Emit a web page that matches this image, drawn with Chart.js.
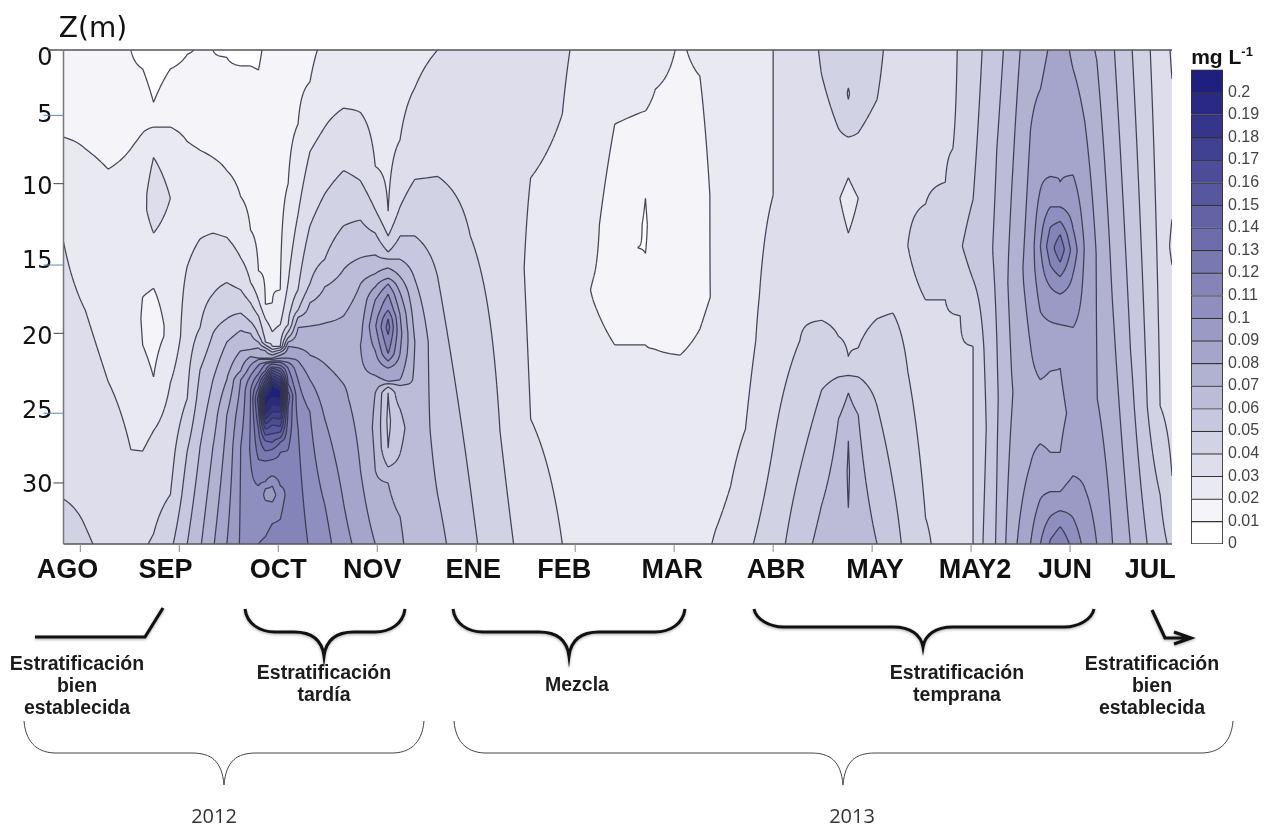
<!DOCTYPE html>
<html>
<head>
<meta charset="utf-8">
<title>Contornos Z(m)</title>
<script src="https://cdn.jsdelivr.net/npm/chart.js@4"></script>
<style>
  html, body { margin: 0; padding: 0; background: #fff; }
  #page { position: relative; width: 1270px; height: 827px; overflow: hidden; }
  canvas { position: absolute; }
  .note { position: absolute; transform: translate(-50%, -50%); white-space: nowrap; color: #1c1c1c; }
  .phase { font: bold 19.5px "Liberation Sans", Arial, sans-serif; }
  .year { font: 20px "Open Sans", sans-serif; color: #333; }
  .axisname { font: 28px "DejaVu Sans", sans-serif; color: #111; }
  .unit { font: bold 21px "Liberation Sans", Arial, sans-serif; color: #111; }
  .unit sup { font-size: 13px; line-height: 0; }
</style>
</head>
<body>
<div id="page">
  <canvas id="contourChart" width="1270" height="827" style="left:0;top:0"></canvas>
  <canvas id="scaleChart" width="85" height="510" style="left:1185px;top:55px"></canvas>
</div>
<script>
// Axis labels
const monthLabels = ["AGO", "SEP", "OCT", "NOV", "ENE", "FEB", "MAR", "ABR", "MAY", "MAY2", "JUN", "JUL"];
const monthLabelAt = [-0.13, 0.86, 2, 2.95, 3.97, 4.89, 5.98, 7.03, 8.03, 9.04, 9.95, 10.81];
const monthTicks = [0, 1, 2, 3, 4, 5, 6, 7, 8, 9, 10];
const depthLabels = ["0", "5", "10", "15", "20", "25", "30"];
const depthLabelAt = [0.58, 4.5, 9.5, 14.6, 19.8, 24.9, 30];
const depthTicks = [0, 4.5, 9.2, 14.8, 19.5, 25, 29.8];
const scaleLabels = ["0", "0.01", "0.02", "0.03", "0.04", "0.05", "0.06", "0.07", "0.08", "0.09", "0.1",
  "0.11", "0.12", "0.13", "0.14", "0.15", "0.16", "0.17", "0.18", "0.19", "0.2"];

// Position of each profile along the time axis (0 = AGO, 1 = SEP ...)
const profileX = [-0.17, 0.05, 0.28, 0.51, 0.63, 0.74, 0.91, 1.08, 1.21, 1.34, 1.48, 1.62, 1.72, 1.8, 1.87, 1.94,
  2.02, 2.1, 2.2, 2.32, 2.47, 2.66, 2.83, 2.98, 3.11, 3.23, 3.38, 3.61, 3.94, 4.24, 4.55, 4.87, 5.18, 5.4, 5.63,
  5.71, 5.81, 6.06, 6.26, 6.42, 6.72, 7, 7.27, 7.49, 7.66, 7.76, 7.86, 8.05, 8.21, 8.36, 8.54, 8.74, 8.89, 9.02,
  9.13, 9.26, 9.41, 9.6, 9.7, 9.8, 9.9, 10.03, 10.15, 10.27, 10.43, 10.61, 10.78, 10.91, 11.03];

// Depth profiles as depth, value, depth, value ... (value in hundredths of mg/L)
const profiles = [
  [0,1.5, 6,2, 13.2,3, 30.9,4, 34,4.4],
  [0,1.5, 6.8,2, 17.9,3, 32.8,4, 34,4.1],
  [0,1.4, 8.2,2, 22.8,3, 34,3.8],
  [0,1, 6.8,2, 27.5,3, 34,3.3],
  [0,0.5, 1.3,1, 5.7,2, 11,2.8, 17,2, 18.5,1.9, 20.3,2, 27.6,3, 34,3.9],
  [0,0.3, 3.6,1, 5.3,2, 7.4,3, 9.9,3.6, 12.6,3, 15,2.5, 16.4,2, 19,1.6, 22.5,2, 26.2,3, 33.3,4, 34,4.1],
  [0,0.6, 1.3,1, 5.3,2, 7,2.5, 10.2,3, 14,2.5, 19.7,2.2, 22.9,3, 30.6,4, 34,4.8],
  [0,0.8, 0.3,1, 6.3,2, 14.9,3, 24,4, 27.6,5, 34,6],
  [0,1.2, 6.9,2, 13,3, 19.1,4, 22,5, 27.3,6, 34,6.9],
  [0,1, 7.4,2, 12.6,3, 16.8,4, 19.5,5, 22.7,6, 27.3,7, 34,7.9],
  [0,0.6, 0.5,1, 8.3,2, 12.9,3, 16,4, 18.5,5, 20.1,6, 22.7,7, 25.1,8, 34,9],
  [0,0.5, 1.1,1, 10.1,2, 14.3,3, 16.5,4, 18.1,5, 19.3,6, 20.7,7, 22.1,8, 22.7,9, 27.3,10, 34,10.1],
  [0,0.5, 1.1,1, 12.4,2, 16,3, 17.4,4, 18.7,5, 19.5,6, 20.6,7, 21.1,8, 21.7,9, 22.4,10, 23.4,11, 27.5,11.1, 29,10.9, 34,10.4],
  [0,0.9, 15.2,2, 17.2,3, 18.3,4, 19.6,5, 20.1,6, 20.5,7, 21.2,8, 21.3,9, 21.7,10, 22.3,11, 23,12.5, 24,14.5, 26.1,13, 28.2,12, 30,11, 32,10.4, 34,11],
  [0,1.1, 17.5,2, 18.5,3, 20.1,4, 20.3,5, 20.5,6, 20.7,7, 21.2,8, 21.3,9, 21.5,10, 21.6,11, 22.1,12, 22.3,13, 22.5,14, 22.7,15, 23,16, 23.4,18, 23.8,20, 24,20.5, 24.7,20, 25.4,18, 26.1,16, 26.9,14, 27.6,13, 28.3,12, 29.7,11, 30.2,10, 30.6,9.7, 31,10, 33.5,11, 34,11.2],
  [0,1.3, 17.4,2, 19.4,3, 20.4,4, 20.6,5, 20.8,6, 21,7, 21.2,8, 21.3,9, 21.4,10, 21.5,11, 21.6,12, 21.8,13, 21.9,14, 22.05,15, 22.2,16, 22.4,17, 22.6,18, 22.8,19, 23,20, 23.6,21, 23.9,20, 24.4,19, 24.9,18, 25.3,17, 25.8,16, 26.4,15, 27,14, 27.5,13, 28.2,12, 29.3,11, 30,10, 30.6,9.6, 31.1,10, 32.6,11, 34,11.6],
  [0,1.4, 16.5,2, 18.9,3, 20.4,4, 20.5,5, 20.65,6, 20.8,7, 21,8, 21.2,9, 21.4,10, 21.5,11, 21.7,12, 21.9,13, 22.1,14, 22.3,15, 22.5,16, 22.7,17, 22.9,18, 23.2,19, 23.4,20, 23.8,20.5, 24,20, 24.5,19, 24.9,18, 25.4,17, 25.9,16, 26.3,15, 26.7,14, 27,13, 27.7,12, 30,11, 30.6,10.5, 32.3,11, 34,11.8],
  [0,1.5, 9.2,2, 16,3, 18.9,4, 19.4,5, 19.8,6, 20.1,7, 20.4,8, 21.2,9, 21.5,10, 21.9,11, 23,12, 23.8,13.5, 24.5,13, 27.5,12, 30,11.2, 34,12],
  [0,1.7, 5.1,2, 11.3,3, 16.5,4, 17.9,5, 18.4,6, 19.1,7, 20.5,8, 21.4,9, 22.7,10, 26,11, 34,11.5],
  [0,1.8, 2.2,2, 7,3, 12.1,4, 16.1,5, 17.4,6, 19,7, 21,8, 22.7,9, 24.9,10, 34,10.9],
  [0,2.2, 5.3,3, 9.9,4, 14.4,5, 16.3,6, 18.8,7, 21.6,8, 25.4,9, 31.3,10, 34,10.4],
  [0,2.6, 4,3, 8.3,4, 12.1,5, 15.1,6, 18.3,7, 23,8, 31.2,9, 34,9.3],
  [0,2.6, 4.3,3, 9,4, 11.7,5, 14.3,6, 16.1,7, 20.3,8, 24,7.7, 28.9,8, 34,8.7],
  [0,2.4, 8,3, 11,4, 12.6,5, 14.1,6, 15.4,7, 16.3,8, 17.2,9, 19,9.9, 20.7,9, 22.4,8, 23.6,7, 26,6.8, 28.9,7, 34,8],
  [0,2.3, 11.1,3, 12.8,4, 13.9,5, 14.4,6, 15,7, 15.7,8, 16.1,9, 16.8,10, 17.9,11, 18.5,12, 19.1,12.4, 19.6,12, 20.9,11, 21.4,10, 21.9,9, 22.8,8, 22.95,7, 23.2,6, 23.6,5, 25.5,4.8, 27.4,5, 28.7,6, 29.8,7, 34,7.5],
  [0,2.5, 6.2,3, 10.8,4, 12.8,5, 14.4,6, 15.6,7, 16.7,8, 18.2,9, 19.5,9.3, 20.9,9, 22.7,8, 23.1,7, 24,6.5, 24.7,6, 26,5.7, 27.8,6, 29.5,6.5, 32.1,7, 34,7.1],
  [0,2.8, 2.6,3, 8.9,4, 12.8,5, 15.8,6, 20.1,7, 26,6.6, 34,6.7],
  [0,3, 8.7,4, 15.6,5, 30.6,6, 34,6.3],
  [0,3.3, 12.8,4, 30.1,5, 34,5.2],
  [0,3.4, 26.2,4, 34,4.4],
  [0,3.5, 8.8,3, 15,2.8, 25.4,3, 34,3.5],
  [0,3.1, 4.4,3, 18,2.5, 34,3],
  [0,2.7, 15.8,2, 16.5,1.95, 17.2,2, 34,2.6],
  [0,2.6, 5.1,2, 12,1.6, 20.3,2, 34,2.5],
  [0,2.5, 4.4,2, 9,1.4, 13.6,1, 20.3,2, 34,2.5],
  [0,2.4, 4.2,2, 10.2,1, 12,0.9, 14,1, 20.3,2, 34,2.4],
  [0,2.4, 2.7,2, 14,1.3, 20.6,2, 34,2.4],
  [0,1.9, 12,1.4, 21,2, 34,2.5],
  [0,2.2, 1.8,2, 10,1.6, 19.2,2, 34,2.7],
  [0,2.5, 17,2.05, 30,2.6, 33,3, 34,3.1],
  [0,2.7, 20,2.7, 26.1,3, 34,3.8],
  [0,3, 10,3, 17,3.3, 27.3,4, 34,4.5],
  [0,3.4, 20,4, 28.9,5, 34,5.6],
  [0,4.1, 1.7,4, 10,3.4, 18.6,4, 23.4,5, 31.3,6, 34,6.3],
  [0,4.5, 5.4,4, 10.2,3.05, 19.7,4, 22.5,5, 25.4,6, 34,6.7],
  [0,4.7, 2.6,5, 3,5.1, 3.4,5, 6,4, 8.8,3, 10.2,2.7, 12.6,3, 21.1,4, 22.4,5, 23.6,6, 26.9,7, 29,7.1, 31.5,7, 34,6.9],
  [0,4.6, 5.7,4, 10.2,3, 20.5,4, 22.5,5, 25.1,6, 34,6.6],
  [0,4.2, 3.4,4, 10,3.4, 18.5,4, 24.5,5, 34,6],
  [0,3.7, 10,3.5, 18.1,4, 29.8,5, 34,5.4],
  [0,3.7, 13.5,4, 17,3.8, 22.1,4, 34,4.7],
  [0,3.6, 10.6,4, 14,4.3, 17.2,4, 22,3.6, 32.2,4, 34,4.2],
  [0,3.8, 9.1,4, 13,4.5, 17.2,4, 34,3.5],
  [0,4.05, 6.8,4.05, 13.5,4.9, 18.3,4, 34,3.7],
  [0,4.5, 10.3,5, 13.5,5.5, 15.8,5, 20.4,4, 34,4],
  [0,5.1, 13.5,5.6, 20.6,5, 26,4.8, 31.6,5, 34,5.1],
  [0,5.6, 6.8,6, 14,6.2, 19.9,6, 24,5.9, 29.5,6, 34,6.1],
  [0,6.5, 9.6,7, 16,7.3, 22.3,7, 23.5,6.95, 25,7, 34,7.6],
  [0,7.6, 5.5,8, 15,8.5, 20.3,8, 25,7.6, 28.5,8, 34,9],
  [0,7.7, 2.7,8, 9.6,9, 13.5,10, 18,9, 22.7,8, 25,7.7, 27.1,8, 30.9,9, 34,10],
  [0,8.1, 8.7,9, 10.8,10, 12.2,11, 13.5,11.6, 14.8,11, 16.3,10, 18.7,9, 22.1,8, 25,7.5, 27.7,8, 30.4,9, 32.1,10, 33.7,11, 34,11.1],
  [0,8.5, 9.1,9, 10.8,10, 11.8,11, 12.7,12, 13.7,12.7, 14.6,12, 15.6,11, 16.8,10, 18.9,9, 21.9,8, 25,7.7, 27.7,8, 30.4,9, 31.7,10, 32.8,11, 34,11.8],
  [0,7.8, 1.3,8, 8.6,9, 12.3,10, 13.8,10.6, 15.4,10, 19.1,9, 25,8.3, 29.3,9, 32.2,10, 34,10.7],
  [0,7.5, 5,8, 13.5,8.9, 25,8.4, 30.2,9, 34,9.7],
  [0,6.9, 0.7,7, 14,7.95, 24,8.02, 34,9],
  [0,6.1, 17.5,7, 34,8],
  [0,5.1, 20.6,6, 34,7],
  [0,4.15, 24.5,5, 34,6],
  [0,3.5, 24.5,4, 30.6,5, 34,5.3],
  [0,2.9, 2,3, 11.2,3.05, 13.5,2.8, 15.1,3.05, 29.3,4, 34,4.8]
];

// Band colour for values between level k and k+1
function bandColor(k) {
  const t = Math.min(k, 20) / 20;
  const r = Math.round(255 - (255 - 31) * t);
  const b = Math.round(255 - (255 - 127) * t);
  return "rgb(" + r + "," + r + "," + b + ")";
}

function readProfile(pairs, depth) {
  for (let i = 2; i < pairs.length; i += 2) {
    if (depth <= pairs[i]) {
      const f = (depth - pairs[i - 2]) / (pairs[i] - pairs[i - 2]);
      return pairs[i - 1] + f * (pairs[i + 1] - pairs[i - 1]);
    }
  }
  return pairs[pairs.length - 1];
}

// Contour plugin: fills each band and strokes each iso-line from the profiles
const contourPlugin = {
  id: "contours",
  beforeDatasetsDraw(chart) {
    const { ctx, chartArea: area, scales } = chart;
    const rows = [];
    for (let j = 0; j <= 340; j++) rows.push(j / 10);
    const grid = profiles.map((p) => rows.map((z) => readProfile(p, z)));
    const xs = profileX.map((v) => scales.x.getPixelForValue(v));
    const ys = rows.map((v) => scales.y.getPixelForValue(v));

    ctx.save();
    ctx.beginPath();
    ctx.rect(area.left, area.top, area.right - area.left, area.bottom - area.top);
    ctx.clip();
    ctx.fillStyle = bandColor(0);
    ctx.fillRect(area.left, area.top, area.right - area.left, area.bottom - area.top);

    for (let level = 1; level <= 20; level++) {
      ctx.beginPath();
      for (let i = 0; i < xs.length - 1; i++) {
        let runStart = -1;
        for (let j = 0; j < ys.length - 1; j++) {
          const c = [
            [xs[i], ys[j], grid[i][j]],
            [xs[i + 1], ys[j], grid[i + 1][j]],
            [xs[i + 1], ys[j + 1], grid[i + 1][j + 1]],
            [xs[i], ys[j + 1], grid[i][j + 1]],
          ];
          const inside = c.filter((p) => p[2] >= level).length;
          if (inside === 4) {
            if (runStart < 0) runStart = j;
            continue;
          }
          if (runStart >= 0) {
            ctx.rect(xs[i], ys[runStart], xs[i + 1] - xs[i], ys[j] - ys[runStart]);
            runStart = -1;
          }
          if (inside === 0) continue;
          let first = true;
          for (let k = 0; k < 4; k++) {
            const p = c[k], q = c[(k + 1) % 4];
            if (p[2] >= level) {
              if (first) ctx.moveTo(p[0], p[1]); else ctx.lineTo(p[0], p[1]);
              first = false;
            }
            if ((p[2] >= level) !== (q[2] >= level)) {
              const f = (level - p[2]) / (q[2] - p[2]);
              const px = p[0] + f * (q[0] - p[0]), py = p[1] + f * (q[1] - p[1]);
              if (first) ctx.moveTo(px, py); else ctx.lineTo(px, py);
              first = false;
            }
          }
          ctx.closePath();
        }
        if (runStart >= 0) {
          ctx.rect(xs[i], ys[runStart], xs[i + 1] - xs[i], ys[ys.length - 1] - ys[runStart]);
        }
      }
      ctx.fillStyle = bandColor(level);
      ctx.fill();
    }

    // iso-lines
    ctx.beginPath();
    for (let level = 1; level <= 20; level++) {
      for (let i = 0; i < xs.length - 1; i++) {
        for (let j = 0; j < ys.length - 1; j++) {
          const c = [
            [xs[i], ys[j], grid[i][j]],
            [xs[i + 1], ys[j], grid[i + 1][j]],
            [xs[i + 1], ys[j + 1], grid[i + 1][j + 1]],
            [xs[i], ys[j + 1], grid[i][j + 1]],
          ];
          const cuts = [];
          for (let k = 0; k < 4; k++) {
            const p = c[k], q = c[(k + 1) % 4];
            if ((p[2] >= level) !== (q[2] >= level)) {
              const f = (level - p[2]) / (q[2] - p[2]);
              cuts.push([p[0] + f * (q[0] - p[0]), p[1] + f * (q[1] - p[1])]);
            }
          }
          for (let k = 0; k + 1 < cuts.length; k += 2) {
            ctx.moveTo(cuts[k][0], cuts[k][1]);
            ctx.lineTo(cuts[k + 1][0], cuts[k + 1][1]);
          }
        }
      }
    }
    ctx.strokeStyle = "rgba(50,50,70,0.9)";
    ctx.lineWidth = 1.25;
    ctx.stroke();
    ctx.restore();
  },
  afterDraw(chart) {
    const { ctx, chartArea: area, scales } = chart;
    ctx.save();
    // frame
    ctx.lineWidth = 1.5;
    ctx.strokeStyle = "#555";
    ctx.beginPath();
    ctx.moveTo(48, area.top);
    ctx.lineTo(area.right, area.top);
    ctx.moveTo(area.left, area.bottom);
    ctx.lineTo(area.right, area.bottom);
    ctx.stroke();
    ctx.strokeStyle = "#777";
    ctx.beginPath();
    ctx.moveTo(area.left, area.top);
    ctx.lineTo(area.left, area.bottom);
    ctx.stroke();

    // tick marks
    ctx.lineWidth = 1;
    monthTicks.forEach((v) => {
      const x = scales.x.getPixelForValue(v);
      ctx.strokeStyle = "#888";
      ctx.beginPath();
      ctx.moveTo(x, area.bottom);
      ctx.lineTo(x, area.bottom + 8);
      ctx.stroke();
    });
    depthTicks.forEach((v, i) => {
      if (i === 0) return;
      const y = scales.y.getPixelForValue(v);
      ctx.strokeStyle = i % 2 ? "#5b8db8" : "#444";
      ctx.beginPath();
      ctx.moveTo(area.left - (i % 2 ? 20 : 10), y);
      ctx.lineTo(area.left, y);
      ctx.stroke();
    });

    // phase braces
    heavyBraces.forEach((b) => drawBrace(ctx, b, 3, 30));
    yearBraces.forEach((b) => drawBrace(ctx, b, 1, 32));

    ctx.strokeStyle = "#111";
    ctx.lineWidth = 3.2;
    ctx.shadowColor = "rgba(0,0,0,0.35)";
    ctx.shadowBlur = 3;
    ctx.shadowOffsetY = 1;
    ctx.beginPath();
    ctx.moveTo(35, 637);
    ctx.lineTo(145, 637);
    ctx.lineTo(163, 608);
    ctx.moveTo(1152, 610);
    ctx.lineTo(1165, 638);
    ctx.lineTo(1189, 638);
    ctx.moveTo(1174, 632);
    ctx.lineTo(1191, 638);
    ctx.lineTo(1174, 644);
    ctx.stroke();
    ctx.restore();
  },
};

// left, right, centre, top, middle, tip
const heavyBraces = [
  [245, 405, 324, 609, 632, 656],
  [453, 685, 569, 609, 632, 656],
  [754, 1094, 923, 609, 627, 647],
];
const yearBraces = [
  [24, 424, 224, 721, 753, 785],
  [454, 1233, 843, 721, 753, 785],
];

function drawBrace(ctx, b, width, bend) {
  const [left, right, mid, top, flat, tip] = b;
  ctx.save();
  ctx.lineWidth = width;
  ctx.strokeStyle = width > 2 ? "#111" : "#444";
  if (width > 2) {
    ctx.shadowColor = "rgba(0,0,0,0.35)";
    ctx.shadowBlur = 3;
    ctx.shadowOffsetY = 1;
  }
  ctx.beginPath();
  ctx.moveTo(left, top);
  ctx.bezierCurveTo(left + 2, flat - 8, left + bend * 0.5, flat, left + bend, flat);
  ctx.lineTo(mid - bend, flat);
  ctx.bezierCurveTo(mid - bend * 0.4, flat, mid - 2, flat + 8, mid, tip);
  ctx.bezierCurveTo(mid + 2, flat + 8, mid + bend * 0.4, flat, mid + bend, flat);
  ctx.lineTo(right - bend, flat);
  ctx.bezierCurveTo(right - bend * 0.5, flat, right - 2, flat - 8, right, top);
  ctx.stroke();
  ctx.restore();
}

new Chart(document.getElementById("contourChart"), {
  type: "scatter",
  data: { datasets: [{ data: [] }] },
  options: {
    responsive: false,
    animation: false,
    plugins: { legend: { display: false }, tooltip: { enabled: false } },
    layout: { padding: { top: 50, right: 98, left: 0, bottom: 0 } },
    scales: {
      x: {
        type: "linear",
        min: -0.17,
        max: 11.03,
        grid: { display: false, drawTicks: false },
        border: { display: false },
        afterFit: (s) => { s.height = 283; },
        afterBuildTicks: (s) => { s.ticks = monthLabelAt.map((v) => ({ value: v })); },
        ticks: {
          autoSkip: false,
          maxRotation: 0,
          padding: 10,
          color: "#111",
          font: { family: "'Liberation Sans', Arial, sans-serif", size: 27, weight: "bold" },
          callback: (v, i) => monthLabels[i],
        },
      },
      y: {
        type: "linear",
        reverse: true,
        min: 0,
        max: 34,
        grid: { display: false, drawTicks: false },
        border: { display: false },
        afterFit: (s) => { s.width = 63.5; },
        afterBuildTicks: (s) => { s.ticks = depthLabelAt.map((v) => ({ value: v })); },
        ticks: {
          autoSkip: false,
          padding: 11,
          color: "#111",
          font: { family: "'DejaVu Sans', sans-serif", size: 24 },
          callback: (v, i) => depthLabels[i],
        },
      },
    },
  },
  plugins: [contourPlugin],
});

// Colour scale: one stacked bar per band, 0.01 mg/L each
const bandWidths = scaleLabels.map(() => 0.01);
new Chart(document.getElementById("scaleChart"), {
  type: "bar",
  data: {
    labels: ["mg L-1"],
    datasets: bandWidths.map((w, k) => ({
      data: [w],
      backgroundColor: bandColor(k),
      borderColor: "#333",
      borderWidth: { top: 1.2, left: 1.2, right: 1.2, bottom: k === 0 ? 1.2 : 0 },
      borderSkipped: false,
      categoryPercentage: 1,
      barPercentage: 1,
    })),
  },
  options: {
    responsive: false,
    animation: false,
    plugins: { legend: { display: false }, tooltip: { enabled: false } },
    layout: { padding: { top: 14, left: 6, bottom: 21, right: 0 } },
    scales: {
      x: { stacked: true, display: false },
      y: {
        stacked: true,
        position: "right",
        min: 0,
        max: 0.21,
        grid: { display: false, drawTicks: false },
        border: { display: false },
        afterFit: (s) => { s.width = 47; },
        afterBuildTicks: (s) => { s.ticks = scaleLabels.map((t, k) => ({ value: k * 0.01 })); },
        ticks: {
          autoSkip: false,
          padding: 5,
          color: "#444",
          font: { family: "'Liberation Sans', Arial, sans-serif", size: 16 },
          callback: (v, i) => scaleLabels[i],
        },
      },
    },
  },
});

// Notes under the chart: text, centre x, centre y
const phaseNotes = [
  ["Estratificación", 77, 663], ["bien", 77, 685], ["establecida", 77, 707],
  ["Estratificación", 324, 672], ["tardía", 324, 694],
  ["Mezcla", 577, 684],
  ["Estratificación", 957, 672], ["temprana", 957, 694],
  ["Estratificación", 1152, 663], ["bien", 1152, 685], ["establecida", 1152, 707],
];
const yearNotes = [["2012", 214, 815], ["2013", 852, 815]];

const page = document.getElementById("page");
function addNote(html, x, y, cls) {
  const el = document.createElement("div");
  el.className = "note " + cls;
  el.style.left = x + "px";
  el.style.top = y + "px";
  el.innerHTML = html;
  page.appendChild(el);
}
phaseNotes.forEach((n) => addNote(n[0], n[1], n[2], "phase"));
yearNotes.forEach((n) => addNote(n[0], n[1], n[2], "year"));
addNote("Z(m)", 93, 27, "axisname");
addNote("mg L<sup>-1</sup>", 1222, 57, "unit");
</script>
</body>
</html>
